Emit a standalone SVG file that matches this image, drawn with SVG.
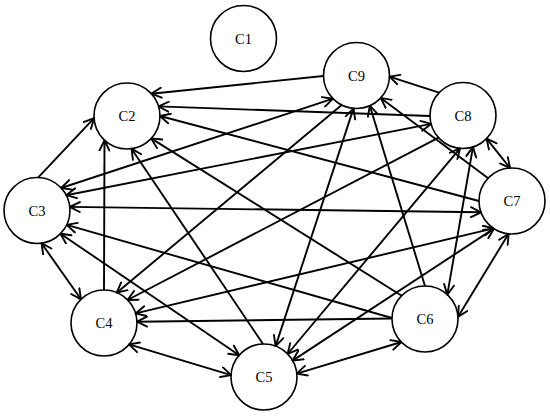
<svg xmlns="http://www.w3.org/2000/svg" width="550" height="416" viewBox="0 0 550 416">
<style>
.node circle{fill:#fff;stroke:#000;stroke-width:1.6}
.node text{font-family:"Liberation Serif","Times New Roman",serif;font-size:14.5px;fill:#000;text-anchor:middle}
.edges path{fill:none;stroke:#000;stroke-width:1.9}
.uni{marker-end:url(#ah)}
.bi{marker-start:url(#ah);marker-end:url(#ah)}
</style>
<defs>
<marker id="ah" viewBox="0 0 12 12" refX="11" refY="6" markerWidth="12" markerHeight="12" markerUnits="userSpaceOnUse" orient="auto-start-reverse">
<path d="M1,1 L11,6 L1,11" fill="none" stroke="#000" stroke-width="1.9" stroke-linejoin="round" stroke-linecap="round"/>
</marker>
</defs>
<rect width="550" height="416" fill="#fff"/>
<g id="nodes">
<g id="C1" class="node"><circle cx="243.5" cy="38.5" r="33"/><text x="243.5" y="43.5">C1</text></g>
<g id="C2" class="node"><circle cx="127" cy="116" r="33"/><text x="127" y="121">C2</text></g>
<g id="C3" class="node"><circle cx="37" cy="210.5" r="33"/><text x="37" y="215.5">C3</text></g>
<g id="C4" class="node"><circle cx="104" cy="323" r="33"/><text x="104" y="328">C4</text></g>
<g id="C5" class="node"><circle cx="264" cy="377" r="33"/><text x="264" y="382">C5</text></g>
<g id="C6" class="node"><circle cx="425" cy="319" r="33"/><text x="425" y="324">C6</text></g>
<g id="C7" class="node"><circle cx="512" cy="201" r="33"/><text x="512" y="206">C7</text></g>
<g id="C8" class="node"><circle cx="463" cy="115.5" r="33"/><text x="463" y="120.5">C8</text></g>
<g id="C9" class="node"><circle cx="356.5" cy="75.5" r="33"/><text x="356.5" y="80.5">C9</text></g>
</g>
<g id="connectors" class="edges">
<path class="uni" d="M323.5,76 L151.3,93.7"/>
<path class="uni" d="M430,116 L158.6,106.4"/>
<path class="uni" d="M479,201 L160,116"/>
<path class="uni" d="M401.7,295.7 L151.2,138.4"/>
<path class="uni" d="M263,344 L131.5,148.7"/>
<path class="uni" d="M104,290 L104.5,140.5"/>
<path class="uni" d="M38.3,177.3 L94.1,118.2"/>
<path class="bi" d="M61.2,188 L333,98.7"/>
<path class="bi" d="M66.2,195.2 L431.1,123.9"/>
<path class="bi" d="M69.8,206.9 L481,212.3"/>
<path class="uni" d="M392,318 L66.7,224.9"/>
<path class="bi" d="M60.5,233.7 L239.2,355.3"/>
<path class="bi" d="M41.5,243.2 L81,299.3"/>
<path class="uni" d="M341.7,105 L116.7,292.7"/>
<path class="uni" d="M438.6,137.6 L127.5,300"/>
<path class="bi" d="M135.6,313.4 L493.6,228.3"/>
<path class="uni" d="M392,318.5 L137,321.7"/>
<path class="bi" d="M129,344.4 L231.1,375.1"/>
<path class="bi" d="M353.5,108.4 L275.6,346.1"/>
<path class="bi" d="M460,148.3 L287.6,354"/>
<path class="bi" d="M493.9,228.6 L292.6,360.6"/>
<path class="bi" d="M401.4,342 L296.8,373.6"/>
<path class="uni" d="M425,286 L369.8,105.7"/>
<path class="uni" d="M488.2,178.2 L380.7,97.9"/>
<path class="uni" d="M439.1,92.7 L389.5,76.6"/>
<path class="bi" d="M486.6,138.6 L510.1,168.1"/>
<path class="bi" d="M473,146.9 L447.3,294.7"/>
<path class="bi" d="M508.6,233.8 L457.9,316.9"/>
</g>
</svg>
